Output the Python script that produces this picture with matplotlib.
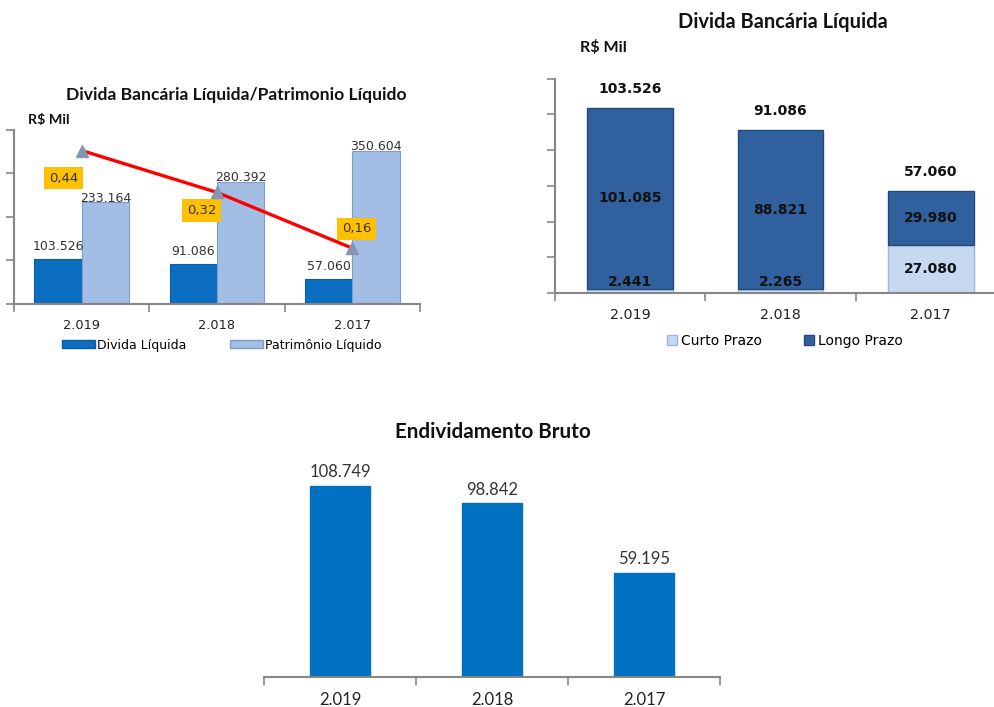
import matplotlib
matplotlib.use("Agg")
import matplotlib.pyplot as plt
from matplotlib.patches import Patch
import numpy as np

# ---------------- data ----------------
years = ["2.019", "2.018", "2.017"]

# chart 1: Divida Bancária Líquida / Patrimonio Líquido
divida_liquida = [103.526, 91.086, 57.060]
patrimonio_liquido = [233.164, 280.392, 350.604]
ratio = [0.44, 0.32, 0.16]
ratio_labels = ["0,44", "0,32", "0,16"]

# chart 2: Divida Bancária Líquida
curto_prazo = [2.441, 2.265, 27.080]
longo_prazo = [101.085, 88.821, 29.980]

# chart 3: Endividamento Bruto
endividamento_bruto = [108.749, 98.842, 59.195]


def fmt(v):
    return f"{v:.3f}"


W, H = 995, 707
fig = plt.figure(figsize=(W / 100, H / 100), dpi=100)
fig.patch.set_facecolor("white")

NUM = "DejaVu Sans"
TIT = "Lato"
SPINE = "#868686"


def ax_px(left, right, top, bottom):
    return fig.add_axes([left / W, (H - bottom) / H, (right - left) / W, (bottom - top) / H])


def style_cat_axis(ax, n, labelsize, pad, family, left_spine=True):
    ax.set_xlim(-0.5, n - 0.5)
    for s in ["top", "right"]:
        ax.spines[s].set_visible(False)
    ax.spines["bottom"].set_color(SPINE)
    ax.spines["bottom"].set_linewidth(1.5)
    if left_spine:
        ax.spines["left"].set_color(SPINE)
        ax.spines["left"].set_linewidth(1.5)
    else:
        ax.spines["left"].set_visible(False)
    ax.set_xticks(np.arange(n + 1) - 0.5)
    ax.set_xticklabels([])
    ax.tick_params(axis="x", which="major", length=6, width=1.2, color=SPINE, direction="out")
    ax.set_xticks(np.arange(n), minor=True)
    ax.set_xticklabels(years, minor=True, fontsize=labelsize, family=family, color="#222222")
    ax.tick_params(axis="x", which="minor", length=0, pad=pad)


# ============ Chart 1 ============
ax1 = ax_px(14, 420, 129.6, 304)
x = np.arange(len(years))
bw = 0.35
ax1.bar(x - bw / 2, divida_liquida, bw, color="#0B6EC0", edgecolor="#0A5CA0", linewidth=0.8)
ax1.bar(x + bw / 2, patrimonio_liquido, bw, color="#A2BEE4", edgecolor="#7F9CC4", linewidth=0.8)
ax1.set_ylim(0, 400)
ax1.set_yticks(np.arange(0, 401, 100))
ax1.set_yticklabels([])
ax1.tick_params(axis="y", length=6, width=1.2, color=SPINE, direction="out")
style_cat_axis(ax1, 3, 9.3, 11, NUM)
for xi, v in zip(x, divida_liquida):
    ax1.annotate(fmt(v), (xi - bw / 2, v), xytext=(0, 9), textcoords="offset points",
                 ha="center", va="center", fontsize=9, family=NUM, color="#333333")
for xi, v in zip(x, patrimonio_liquido):
    ax1.annotate(fmt(v), (xi + bw / 2, v), xytext=(0, 3), textcoords="offset points",
                 ha="center", va="center", fontsize=9, family=NUM, color="#333333")

ax1b = ax1.twinx()
ax1b.set_ylim(0, 0.5)
ax1b.axis("off")
ax1b.plot(x, ratio, color="#FF0000", lw=2.4, zorder=3)
ax1b.plot(x, ratio, ls="none", marker="^", ms=8, color="#8497B0", zorder=4)
lab_off = [(-13, -20), (-11, -13), (3, 14)]
for xi, v, t, off in zip(x, ratio, ratio_labels, lab_off):
    ax1b.annotate(t, (xi, v), xytext=off, textcoords="offset points", ha="center", va="center",
                  fontsize=9.5, family=NUM, color="#333333",
                  bbox=dict(boxstyle="square,pad=0.35", fc="#FFC000", ec="none"))

fig.text(236 / W, 1 - 95 / H, "Divida Bancária Líquida/Patrimonio Líquido", ha="center", va="center",
         fontsize=12.6, fontweight="bold", family=TIT, color="#111111")
fig.text(28 / W, 1 - 120 / H, "R$ Mil", ha="left", va="center", fontsize=10.3,
         fontweight="bold", family=TIT, color="#111111")
fig.legend([Patch(fc="#0B6EC0", ec="#0A5CA0"), Patch(fc="#A2BEE4", ec="#7F9CC4")],
           ["Divida Líquida", "Patrimônio Líquido"], loc="center",
           bbox_to_anchor=(222 / W, 1 - 345 / H), ncol=2, frameon=False,
           prop=dict(family=NUM, size=9), handlelength=2.6, handleheight=0.6,
           handletextpad=0.2, columnspacing=3.5)

# ============ Chart 2 ============
ax2 = ax_px(555, 1006, 78.6, 293)
bw2 = 0.57
ax2.bar(x, curto_prazo, bw2, color="#C6D9F0", edgecolor="#9FB6D4", linewidth=1.0)
ax2.bar(x, longo_prazo, bw2, bottom=curto_prazo, color="#30609E", edgecolor="#24497A", linewidth=1.0)
ax2.set_ylim(0, 120)
ax2.set_yticks(np.arange(0, 121, 20))
ax2.set_yticklabels([])
ax2.tick_params(axis="y", length=6, width=1.2, color=SPINE, direction="out")
style_cat_axis(ax2, 3, 10.3, 11, NUM)
for xi, c, l in zip(x, curto_prazo, longo_prazo):
    total = c + l
    ax2.annotate(fmt(total), (xi, total), xytext=(0, 14), textcoords="offset points",
                 ha="center", va="center", fontsize=10, fontweight="bold", family=NUM, color="#111111")
    ax2.text(xi, c + l / 2, fmt(l), ha="center", va="center", fontsize=10,
             fontweight="bold", family=NUM, color="#111111")
    if c > 10:
        ax2.text(xi, c / 2, fmt(c), ha="center", va="center", fontsize=10,
                 fontweight="bold", family=NUM, color="#111111")
    else:
        ax2.annotate(fmt(c), (xi, c), xytext=(0, 5), textcoords="offset points",
                     ha="center", va="center", fontsize=10, fontweight="bold", family=NUM, color="#111111")
fig.text(783 / W, 1 - 22 / H, "Divida Bancária Líquida", ha="center", va="center",
         fontsize=14.4, fontweight="bold", family=TIT, color="#111111")
fig.text(580 / W, 1 - 48 / H, "R$ Mil", ha="left", va="center", fontsize=11.6,
         fontweight="bold", family=TIT, color="#111111")
fig.legend([Patch(fc="#C6D9F0", ec="#9FB6D4"), Patch(fc="#30609E", ec="#24497A")],
           ["Curto Prazo", "Longo Prazo"], loc="center",
           bbox_to_anchor=(785 / W, 1 - 341 / H), ncol=2, frameon=False,
           prop=dict(family=NUM, size=10), handlelength=0.7, handleheight=0.7,
           handletextpad=0.3, columnspacing=3.0)

# ============ Chart 3 ============
ax3 = ax_px(264, 720, 440, 677)
ax3.bar(x, endividamento_bruto, 0.4, color="#0070C0", edgecolor="#0070C0")
ax3.set_ylim(0, 135)
ax3.set_yticks([])
style_cat_axis(ax3, 3, 12, 11, TIT, left_spine=False)
for xi, v in zip(x, endividamento_bruto):
    ax3.annotate(fmt(v), (xi, v), xytext=(0, 10), textcoords="offset points",
                 ha="center", va="center", fontsize=12, family=TIT, color="#333333")
fig.text(493 / W, 1 - 432 / H, "Endividamento Bruto", ha="center", va="center",
         fontsize=14.9, fontweight="bold", family=TIT, color="#111111")

fig.savefig("out.png", dpi=100, facecolor="white")
